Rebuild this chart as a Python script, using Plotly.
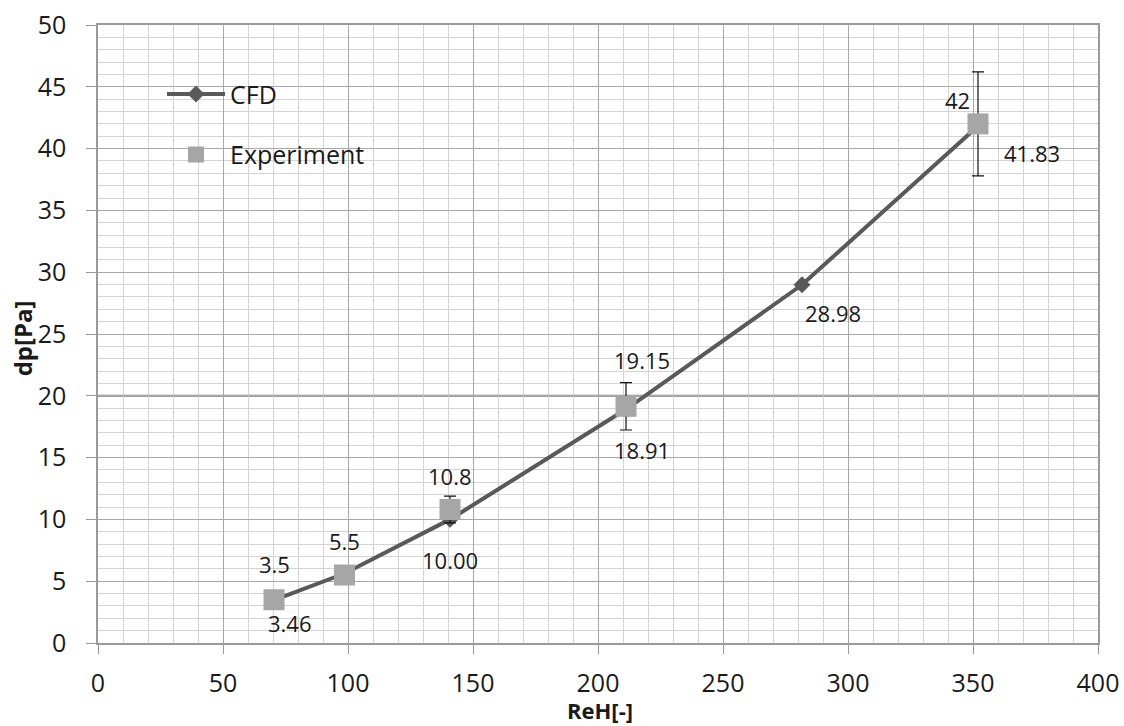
import plotly.graph_objects as go

# Reynolds numbers (hydraulic diameter based)
reh_cfd = [70.4, 98.6, 140.8, 211.2, 281.6, 352.0]
dp_cfd = [3.46, 5.62, 10.00, 18.91, 28.98, 41.83]
cfd_labels = ["3.46", "", "10.00", "18.91", "28.98", "41.83"]

reh_exp = [70.4, 98.6, 140.8, 211.2, 352.0]
dp_exp = [3.5, 5.5, 10.8, 19.15, 42.0]
dp_exp_err = [0.35, 0.55, 1.08, 1.915, 4.2]
exp_labels = ["3.5", "5.5", "10.8", "19.15", "42"]

x_ticks = [0, 50, 100, 150, 200, 250, 300, 350, 400]
y_ticks = [0, 5, 10, 15, 20, 25, 30, 35, 40, 45, 50]

FONT = "Open Sans"
TEXT = "#1a1a1a"

fig = go.Figure()

fig.add_trace(go.Scatter(
    x=reh_cfd, y=dp_cfd, name="CFD", mode="lines+markers",
    line=dict(color="#595959", width=4),
    marker=dict(symbol="diamond", size=13, color="#595959"),
    legend="legend",
))

fig.add_trace(go.Scatter(
    x=reh_exp, y=dp_exp, name="Experiment", mode="markers",
    marker=dict(symbol="square", size=21, color="#a6a6a6"),
    error_y=dict(type="data", array=dp_exp_err, visible=True,
                 color="#111111", thickness=1.2, width=6),
    legend="legend2",
))

# value labels: (dx, dy) offsets in pixels
cfd_offsets = [(16, -23), None, (0, -41), (16, -41), (31, -28), (54, -27)]
exp_offsets = [(0, 36), (0, 34), (0, 34), (16, 46), (-21, 24)]

for xv, yv, lab, off in zip(reh_cfd, dp_cfd, cfd_labels, cfd_offsets):
    if off is None or not lab:
        continue
    fig.add_annotation(x=xv, y=yv, text=lab, showarrow=False,
                       xshift=off[0], yshift=off[1],
                       font=dict(family=FONT, size=22, color=TEXT))

for xv, yv, lab, off in zip(reh_exp, dp_exp, exp_labels, exp_offsets):
    fig.add_annotation(x=xv, y=yv, text=lab, showarrow=False,
                       xshift=off[0], yshift=off[1],
                       font=dict(family=FONT, size=22, color=TEXT))

# axis titles
fig.add_annotation(x=0.502, y=-0.108, xref="paper", yref="paper",
                   text="<b>ReH[-]</b>", showarrow=False,
                   xanchor="center", yanchor="middle",
                   font=dict(family=FONT, size=22, color=TEXT))
fig.add_annotation(x=-0.076, y=0.493, xref="paper", yref="paper",
                   text="<b>dp[Pa]</b>", showarrow=False, textangle=-90,
                   xanchor="center", yanchor="middle",
                   font=dict(family=FONT, size=24, color=TEXT))

# darker reference line at 20 Pa
fig.add_shape(type="line", xref="paper", yref="y", x0=0, x1=1, y0=20, y1=20,
              line=dict(color="#808080", width=2), layer="below")

axis_common = dict(
    showline=True, linecolor="#9a9a9a", linewidth=1.5, mirror=True,
    gridcolor="#a8a8a8", gridwidth=1, zeroline=False, automargin=False,
    ticks="outside", tickcolor="#9a9a9a",
    tickfont=dict(family=FONT, size=25, color=TEXT),
)

fig.update_xaxes(
    range=[0, 400], tickvals=x_ticks, ticklen=9, ticklabelstandoff=8,
    minor=dict(dtick=10, showgrid=True, gridcolor="#d4d4d4", gridwidth=1,
               ticks=""),
    **axis_common,
)
fig.update_yaxes(
    range=[0, 50], tickvals=y_ticks, ticklen=10, ticklabelstandoff=15,
    minor=dict(dtick=1, showgrid=True, gridcolor="#d4d4d4", gridwidth=1,
               ticks=""),
    **axis_common,
)

legend_common = dict(
    bgcolor="rgba(0,0,0,0)", borderwidth=0, xanchor="left", yanchor="middle",
    font=dict(family=FONT, size=25, color=TEXT), itemwidth=58,
)

fig.update_layout(
    width=1124, height=726,
    margin=dict(l=98, r=26, t=25, b=83, autoexpand=False),
    paper_bgcolor="white", plot_bgcolor="white",
    showlegend=True,
    legend=dict(x=0.064, y=0.888, **legend_common),
    legend2=dict(x=0.064, y=0.79, **legend_common),
)

fig.write_html("out.html")
